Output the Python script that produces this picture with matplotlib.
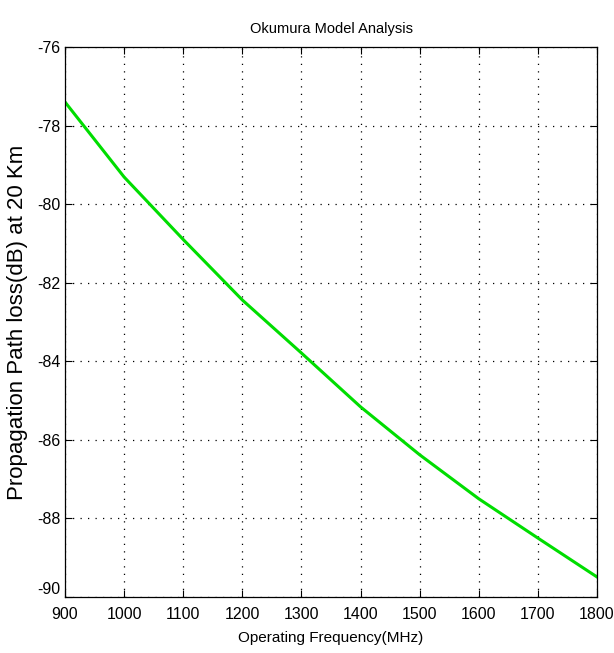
import matplotlib
matplotlib.use('Agg')
import matplotlib.pyplot as plt

# values
freq_mhz = [900, 1000, 1100, 1200, 1300, 1400, 1500, 1600, 1700, 1800]
loss_db = [-77.40, -79.31, -80.90, -82.44, -83.79, -85.16, -86.38, -87.50, -88.50, -89.49]

x_ticks = [900, 1000, 1100, 1200, 1300, 1400, 1500, 1600, 1700, 1800]
y_ticks = [-90, -88, -86, -84, -82, -80, -78, -76]

plt.rcParams['font.family'] = ['Liberation Sans', 'DejaVu Sans']
plt.rcParams['axes.unicode_minus'] = False

fig = plt.figure(figsize=(6.14, 6.53), dpi=100)
ax = fig.add_axes([65/614, 1-597/653, 532/614, 550/653])

ax.plot(freq_mhz, loss_db, color='#00dd00', linewidth=2.2)

ax.set_xlim(900, 1800)
ax.set_ylim(-90, -76)
ax.set_xticks(x_ticks)
ax.set_yticks(y_ticks)
ax.tick_params(direction='in', top=True, right=True, length=5, width=0.8,
               labelsize=11.5, colors='black')
ax.tick_params(axis='x', pad=7)
ax.tick_params(axis='y', pad=3)
ax.grid(True, linestyle=(0, (1, 5)), color='black', linewidth=0.9)
for s in ax.spines.values():
    s.set_linewidth(0.9)

# MATLAB nudges the lowest y label up so it clears the first x label
ax.get_yticklabels()[0].set_verticalalignment('bottom')

ax.set_title('Okumura Model Analysis', fontsize=10.5, pad=10)
ax.set_xlabel('Operating Frequency(MHz)', fontsize=11, labelpad=7)
ax.set_ylabel('Propagation Path loss(dB) at 20 Km', fontsize=16, labelpad=7)

fig.savefig('out.png', dpi=100)
